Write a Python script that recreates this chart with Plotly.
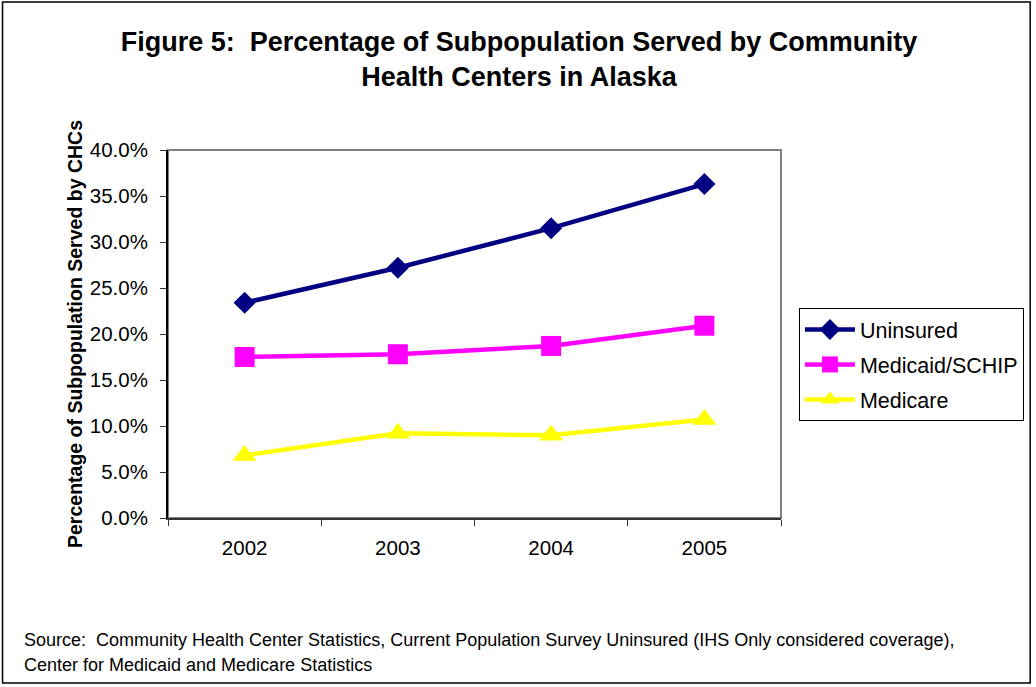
import plotly.graph_objects as go

years = ["2002", "2003", "2004", "2005"]
uninsured = [23.4, 27.2, 31.5, 36.3]
medicaid = [17.5, 17.8, 18.7, 20.9]
medicare = [6.8, 9.2, 9.0, 10.7]
y_ticks = [0, 5, 10, 15, 20, 25, 30, 35, 40]
y_tick_labels = [f"{v:.1f}%" for v in y_ticks]

FONT = "Liberation Sans, Arial, sans-serif"

W, H = 1036, 687
L, R, T, B = 168, 783, 150, 518
PW, PH = R - L, B - T


def px(x):
    return (x - L) / PW


def py(y):
    return (B - y) / PH


fig = go.Figure()
fig.add_trace(go.Scatter(x=years, y=uninsured, name="Uninsured", mode="lines+markers",
                         legendgroup="a",
                         line=dict(color="#000080", width=4.5),
                         marker=dict(symbol="diamond", size=17, color="#000080")))
fig.add_trace(go.Scatter(x=years, y=medicaid, name="Medicaid/SCHIP", mode="lines+markers",
                         legendgroup="b",
                         line=dict(color="#FF00FF", width=4.5),
                         marker=dict(symbol="square", size=20, color="#FF00FF")))
fig.add_trace(go.Scatter(x=years, y=medicare, name="Medicare", mode="lines+markers",
                         legendgroup="c",
                         line=dict(color="#FFFF00", width=4.5),
                         marker=dict(symbol="triangle-up", size=21, color="#FFFF00")))

fig.update_layout(
    width=W, height=H,
    margin=dict(l=L, r=W - R, t=T, b=H - B),
    paper_bgcolor="white", plot_bgcolor="white",
    font=dict(family=FONT, size=20, color="black"),
    title=dict(text="<b>Figure 5:  Percentage of Subpopulation Served by Community<br>Health Centers in Alaska</b>",
               x=0.501, xanchor="center", y=1 - 51 / H, yanchor="middle",
               font=dict(size=27, family=FONT, color="black")),
    showlegend=True,
    legend=dict(x=px(801), y=py(308), xanchor="left", yanchor="top",
                bgcolor="white", bordercolor="black", borderwidth=1,
                itemwidth=50, traceorder="grouped", tracegroupgap=4,
                font=dict(size=21.5, family=FONT)),
    xaxis=dict(type="category", tickson="boundaries", ticks="outside", ticklen=6,
               tickcolor="#333", showline=True, linecolor="#333", linewidth=2,
               showgrid=False, range=[-0.5, 3.5], tickfont=dict(size=20.5),
               ticklabelstandoff=10),
    yaxis=dict(range=[0, 40], tickvals=y_ticks, ticktext=y_tick_labels,
               ticks="outside", ticklen=6, tickcolor="#333",
               showline=True, linecolor="black", linewidth=2, showgrid=False,
               zeroline=False, tickfont=dict(size=20.5), ticklabelstandoff=8,
               title=dict(text="<b>Percentage of Subpopulation Served by CHCs</b>",
                          font=dict(size=19.5, family=FONT), standoff=2)),
)

# plot area border (top/right gray)
fig.add_shape(type="rect", xref="paper", yref="paper", x0=0, y0=0, x1=1, y1=1,
              line=dict(color="#808080", width=2), layer="below")
# outer chart border
fig.add_shape(type="rect", xref="paper", yref="paper",
              x0=px(2), x1=px(1033), y0=py(683), y1=py(2),
              line=dict(color="black", width=1.5))

fig.add_annotation(xref="paper", yref="paper", x=px(22), y=py(640),
                   xanchor="left", yanchor="middle", showarrow=False, align="left",
                   text="Source:  Community Health Center Statistics, Current Population Survey Uninsured (IHS Only considered coverage),",
                   font=dict(size=18, family=FONT))
fig.add_annotation(xref="paper", yref="paper", x=px(22), y=py(665),
                   xanchor="left", yanchor="middle", showarrow=False, align="left",
                   text="Center for Medicaid and Medicare Statistics",
                   font=dict(size=18, family=FONT))

fig.write_html("out.html")
